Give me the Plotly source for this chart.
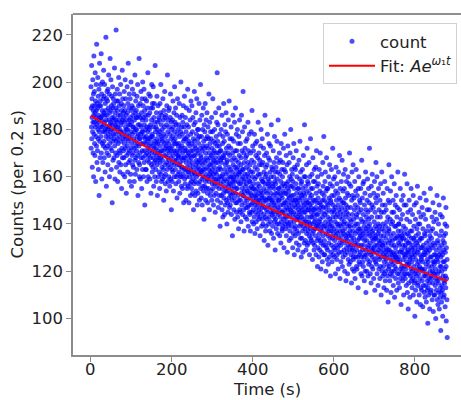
import numpy as np
import plotly.graph_objects as go

# Time bin spacing of the plotted samples (s)
t_step = 0.4

# Counts per 0.2 s, read/ (rows of 8 s)
counts = [
198,172,189,181,207,176,193,185,164,190,179,201,183,170,188,195,160,186,211,178,
183,196,174,190,169,187,204,181,192,158,185,177,199,188,173,216,182,166,191,184,
171,189,202,180,176,194,163,186,183,197,152,179,190,208,175,185,168,192,181,199,
190,177,185,212,170,184,195,159,181,188,174,200,186,166,179,193,182,173,205,187,
175,194,168,183,199,179,186,162,191,180,172,188,219,177,184,156,193,181,170,196,
186,173,192,180,165,197,178,189,176,203,169,184,181,195,160,187,174,182,210,179,
172,188,183,201,177,163,190,180,194,171,185,149,182,198,175,189,167,184,193,178,
191,176,168,185,180,206,173,187,159,182,195,178,170,189,184,222,175,181,164,192,
183,169,197,176,188,158,181,192,174,186,179,202,166,184,171,190,177,195,162,180,
170,186,179,199,165,182,175,191,183,155,188,172,178,205,168,184,193,176,161,187,
185,171,190,168,179,196,174,183,160,188,177,201,172,181,165,193,176,186,153,180,
169,184,178,198,173,187,162,180,191,175,208,170,182,166,189,177,195,171,184,158,
182,167,193,176,185,161,179,200,172,188,156,183,174,190,169,178,197,165,181,186,
170,189,164,181,176,195,172,158,184,179,167,203,175,187,161,180,192,173,168,185,
188,171,180,163,194,177,185,169,199,174,152,182,178,190,166,186,173,210,176,160,
165,182,176,191,170,159,185,178,196,168,181,174,187,155,179,193,171,184,163,200,
179,168,190,174,160,185,177,197,166,182,171,188,148,176,193,169,180,163,186,174,
184,163,177,192,170,181,158,175,189,167,179,204,172,160,186,176,169,195,173,181,
166,180,171,187,159,176,194,168,182,174,153,189,177,165,184,199,170,178,162,191,
177,189,164,173,198,168,181,156,185,172,166,191,175,160,183,170,207,167,179,174,
163,181,172,158,187,169,176,194,165,180,152,174,183,167,190,171,160,178,185,168,
175,162,184,170,155,179,191,166,173,187,168,199,161,177,182,158,171,186,164,176,
180,167,159,175,193,171,163,184,178,150,188,169,174,160,181,196,165,172,185,157,
161,177,186,169,173,154,182,166,190,175,163,171,203,168,179,158,184,172,165,188,
174,160,181,167,189,170,156,178,164,185,172,195,159,176,168,183,146,171,180,163,
158,173,166,184,162,177,192,169,181,154,175,165,187,171,160,179,198,167,174,183,
176,163,189,170,157,182,167,174,160,186,171,151,178,165,193,169,161,180,173,168,
169,182,158,174,165,191,162,177,153,171,185,166,160,179,172,200,164,168,156,181,
160,173,186,164,178,155,170,183,167,161,190,175,149,168,181,163,176,194,159,171,
172,157,168,185,163,176,150,179,166,189,160,171,182,164,155,177,169,197,162,174,
156,170,181,162,175,149,167,188,160,173,165,157,184,169,152,178,163,192,171,158,
168,155,174,190,161,166,179,153,171,185,159,164,176,146,169,182,162,157,196,173,
175,161,152,169,183,158,172,165,187,154,167,178,160,193,163,171,148,180,166,176,
153,170,164,180,157,174,161,191,167,150,177,163,184,158,172,166,199,155,169,162,
168,151,177,162,186,159,171,148,165,180,156,173,163,189,160,154,175,167,142,182,
172,163,156,179,166,191,158,170,150,176,161,184,168,155,173,164,187,159,177,153,
149,167,181,160,172,155,176,163,195,158,170,146,165,183,161,174,152,168,179,162,
165,176,154,169,160,185,150,172,163,157,179,166,193,155,170,161,148,175,167,159,
171,152,164,180,157,168,174,145,162,187,159,166,153,177,170,161,183,156,173,204,
150,166,175,158,182,163,147,170,159,189,155,168,173,152,164,178,160,139,171,167,
163,149,171,157,180,152,166,160,186,146,168,155,174,161,143,177,158,169,153,191,
151,168,159,175,144,163,182,156,170,148,165,179,154,161,187,150,172,158,166,140,
167,154,178,149,162,170,145,159,184,156,173,151,164,192,157,147,169,160,176,153,
148,163,157,172,152,181,160,144,167,155,176,150,162,135,170,158,186,153,165,159,
160,175,146,156,168,151,183,158,142,164,171,153,189,149,161,167,155,178,145,163,
171,149,160,155,180,143,164,158,174,152,166,138,161,177,150,169,157,184,146,162,
145,162,174,150,157,168,141,165,153,186,159,148,171,155,163,179,144,160,152,196,
163,152,146,170,158,137,166,154,181,149,161,172,156,143,168,151,175,159,147,164,
157,169,142,154,176,150,161,147,166,183,153,139,160,171,148,163,155,178,145,158,
144,158,165,151,137,170,153,162,148,179,156,145,167,152,188,141,160,149,173,155,
162,146,155,171,140,157,150,166,143,178,152,159,136,164,148,174,154,145,169,151,
141,160,152,147,175,155,138,163,149,168,144,157,183,150,161,142,170,153,146,165,
156,143,167,150,135,161,148,173,154,145,180,152,159,139,165,151,147,176,158,142,
153,166,140,158,149,172,144,155,162,133,151,169,147,157,186,143,160,150,137,164,
139,154,161,146,170,150,142,165,153,178,145,157,131,159,148,168,140,156,151,174,
158,143,151,167,137,155,162,147,173,141,153,160,145,182,150,136,164,149,157,144,
150,163,139,156,145,171,152,134,160,148,166,143,155,177,141,158,147,129,162,153,
142,157,164,149,138,168,151,145,175,140,159,153,136,162,147,184,144,155,150,166,
155,140,150,170,146,135,161,153,143,167,148,158,132,152,174,141,156,145,163,138,
137,151,160,145,166,139,154,148,172,142,157,130,149,163,146,153,178,140,156,143,
149,162,138,153,144,169,135,157,147,141,165,150,128,155,143,173,146,158,139,152,
140,154,148,166,133,151,160,144,137,170,146,156,141,180,149,134,159,145,152,163,
156,139,147,161,150,130,158,143,168,136,152,145,174,141,155,127,148,164,138,150,
135,150,163,144,139,157,147,171,132,153,142,160,137,149,165,143,155,129,151,146,
148,136,155,142,167,131,150,145,159,139,175,144,153,134,162,140,147,157,126,152,
143,158,134,151,146,163,137,155,128,149,142,169,139,153,145,160,132,148,182,141,
152,138,145,160,133,147,156,129,150,141,165,136,154,143,172,131,149,158,139,146,
137,149,157,132,146,141,166,135,153,127,148,160,140,151,138,176,143,134,155,145,
147,133,152,143,161,136,149,125,155,140,168,132,146,158,137,150,144,129,163,141,
131,146,158,138,150,142,135,164,147,127,153,139,171,144,133,156,140,149,122,160,
144,130,151,139,157,134,146,126,141,163,136,149,129,154,142,170,133,147,138,121,
132,148,140,161,128,145,153,137,124,150,143,166,135,156,131,147,139,177,127,152,
150,133,144,127,158,139,131,162,141,147,120,154,136,145,168,130,149,138,155,125,
129,143,155,135,148,123,140,160,132,151,137,146,126,165,142,134,157,139,118,150,
141,128,149,137,163,131,145,152,124,139,156,134,172,143,127,148,136,159,130,146,
138,152,126,145,133,160,129,141,147,119,154,135,143,164,131,150,137,125,157,140,
127,144,136,153,130,148,121,139,162,134,146,128,151,140,169,132,143,117,155,137,
145,131,150,124,139,158,135,147,128,142,167,133,122,149,137,154,126,144,140,161,
136,149,129,141,155,132,120,146,138,163,127,151,135,143,116,148,134,158,130,145,
128,140,153,133,119,147,136,160,125,144,131,152,139,123,157,135,170,129,142,137,
139,124,147,131,156,127,141,135,115,150,133,162,129,144,121,152,137,130,165,126,
125,142,134,151,120,139,146,128,158,132,117,148,136,126,154,140,131,163,122,144,
143,129,121,137,152,133,126,147,140,113,155,131,138,160,124,145,134,127,150,136,
123,138,149,128,135,155,119,142,131,146,126,167,134,118,141,151,129,137,124,157,
136,122,144,131,158,126,139,116,148,133,127,153,120,141,135,162,129,111,146,138,
127,143,133,120,150,137,125,159,130,145,118,139,131,155,123,142,136,149,128,172,
140,124,135,152,119,132,146,127,138,115,156,130,143,122,148,134,161,126,137,129,
121,136,147,128,133,117,153,130,141,125,158,134,112,145,131,139,124,151,135,166,
134,149,123,138,128,160,119,143,131,126,152,136,114,140,129,155,133,121,146,137,
125,139,132,117,150,130,143,122,157,135,128,110,145,133,126,162,138,120,148,131,
131,118,140,127,153,122,135,129,113,145,124,137,119,158,132,126,148,116,139,128,
120,134,146,125,130,112,141,127,155,123,136,118,143,129,107,150,132,121,138,165,
137,122,129,149,116,133,126,142,119,154,128,135,111,140,124,131,160,120,145,127,
118,133,141,123,128,150,114,136,125,145,120,131,157,127,109,139,122,134,148,126,
130,117,139,126,152,121,134,112,143,128,124,147,119,135,162,125,137,115,132,140,
126,140,119,131,113,146,124,135,128,155,117,133,121,142,106,137,129,150,122,134,
135,120,128,144,116,131,125,152,118,139,110,134,127,148,122,136,161,119,130,126,
117,131,138,121,127,148,114,133,124,142,119,157,128,111,136,123,145,129,104,132,
128,115,135,123,150,119,132,126,109,141,125,137,118,146,130,121,155,116,134,127,
124,137,113,129,120,144,117,131,126,152,110,134,122,139,115,128,148,119,133,101,
130,116,127,142,112,125,135,120,149,118,132,107,138,123,128,156,114,131,121,140,
115,129,136,119,124,145,110,133,122,140,117,151,127,106,134,121,143,113,130,125,
126,112,134,121,147,116,130,124,105,138,120,131,114,144,127,118,153,111,128,136,
121,135,109,127,118,142,114,129,123,150,107,132,119,137,112,125,146,116,130,98,
128,113,124,139,110,122,133,117,146,115,129,104,135,120,126,155,111,131,118,137,
112,126,134,117,122,143,108,130,120,138,115,149,124,103,132,119,141,110,127,123,
124,110,131,119,145,114,127,121,100,136,117,129,112,142,125,116,152,108,126,133,
119,132,106,124,115,140,111,127,120,148,104,130,117,135,109,122,144,113,128,95,
126,111,122,137,107,120,131,114,143,112,127,101,133,118,124,151,109,129,116,135,
110,124,132,115,121,140,105,128,118,136,113,147,122,99,130,117,139,108,125,92,
]
time_s = np.arange(len(counts)) * t_step

# Fit curve A*exp(w1*t)
fit_t = [0, 80, 160, 240, 320, 400, 480, 560, 640, 720, 800, 880]
fit_counts = [185.7, 177.9, 170.4, 163.3, 156.4, 149.9, 143.6, 137.5, 131.8, 126.2, 120.9, 115.9]

x_ticks = [0, 200, 400, 600, 800]
y_ticks = [100, 120, 140, 160, 180, 200, 220]

FS = 16.5
TXT = "#222222"

fig = go.Figure()
fig.add_trace(go.Scatter(
    x=time_s, y=counts, mode="markers", name="count",
    marker=dict(color="rgba(0,0,255,0.7)", size=5, line=dict(width=0)),
))
fig.add_trace(go.Scatter(
    x=fit_t, y=fit_counts, mode="lines",
    name="Fit: <i>Ae</i><sup><i>ω</i>₁<i>t</i></sup>",
    line=dict(color="red", width=2, shape="spline"),
))

axis_common = dict(
    showgrid=False, zeroline=False, showline=True, linecolor="#8c8c8c",
    linewidth=1.5, ticks="outside", ticklen=5, tickwidth=1.2, tickcolor="#8c8c8c",
    tickfont=dict(size=FS, color=TXT), automargin=False,
)

# x tick labels placed at their data positions just below the axis
xtick_annotations = [
    dict(text=str(v), xref="x", yref="paper", x=v, y=-0.0431,
         xanchor="center", yanchor="middle", showarrow=False,
         font=dict(size=FS, color=TXT))
    for v in x_ticks
]

fig.update_layout(
    width=461, height=400,
    margin=dict(l=73, r=0, t=14, b=45),
    paper_bgcolor="white", plot_bgcolor="white",
    font=dict(family="DejaVu Sans", size=FS, color=TXT),
    showlegend=True,
    legend=dict(
        x=0.9897, y=0.9736, xanchor="right", yanchor="top",
        bgcolor="rgba(255,255,255,0.8)", bordercolor="#d0d0d0", borderwidth=1,
        font=dict(size=FS, color=TXT), itemwidth=46,
    ),
    xaxis=dict(range=[-44.4, 913.6], tickvals=x_ticks, showticklabels=False,
               **axis_common),
    yaxis=dict(range=[84.6, 228.8], tickvals=y_ticks,
               **axis_common),
    annotations=xtick_annotations + [
        dict(text="Time (s)", xref="paper", yref="paper", x=0.5, y=-0.1026,
             xanchor="center", yanchor="middle", showarrow=False,
             font=dict(size=FS, color=TXT)),
        dict(text="Counts (per 0.2 s)", xref="paper", yref="paper", x=-0.1418, y=0.5,
             xanchor="center", yanchor="middle", textangle=-90, showarrow=False,
             font=dict(size=FS, color=TXT)),
    ],
    shapes=[dict(type="line", xref="paper", yref="paper", x0=0, x1=1, y0=1, y1=1,
                 line=dict(color="#222222", width=1.2))],
)

fig.write_html("out.html")
